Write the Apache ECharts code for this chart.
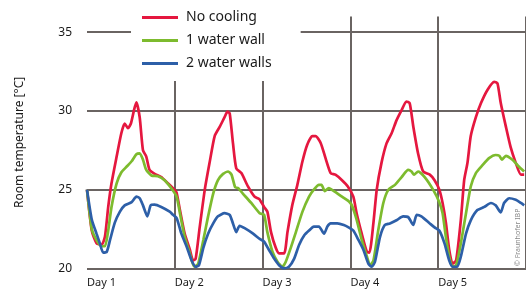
<!DOCTYPE html>
<html>
<head>
<meta charset="utf-8">
<script src="https://cdn.jsdelivr.net/npm/echarts@6/dist/echarts.min.js"></script>
<style>
  html, body { margin: 0; padding: 0; background: #fff; }
  #chart { width: 526px; height: 290px; }
</style>
</head>
<body>
<div id="chart"></div>
<script>
var myChart = echarts.init(document.getElementById('chart'));

var dayLabels = ['Day 1', 'Day 2', 'Day 3', 'Day 4', 'Day 5'];
var seriesNames = ['No cooling', '1 water wall', '2 water walls'];
var seriesColors = ['#e5173f', '#7dbb2e', '#2d5fa8'];

// [hour, room temperature °C]
var noCooling = [[0,25.0],[1.3,22.4],[2.6,21.6],[4.0,21.5],[4.9,22.0],[5.8,23.9],[6.7,25.4],[8.1,27.1],
    [9.4,28.6],[10.3,29.2],[11.2,28.9],[12.0,29.2],[12.9,30.1],[13.5,30.55],[14.4,29.6],[15.3,27.5],
    [16.2,27.1],[17.1,26.25],[18.5,26.0],[20.3,25.8],[22.1,25.4],[23.9,25.0],[24.5,24.8],[25.4,23.7],
    [26.7,22.2],[28.1,21.2],[29.0,20.5],[29.7,20.6],[30.8,22.6],[32.2,25.0],[33.5,26.7],[34.9,28.4],
    [36.3,29.0],[37.6,29.6],[38.4,29.95],[39.0,29.85],[39.9,27.95],[40.8,26.35],[42.2,26.05],[44.0,25.2],
    [45.8,24.55],[47.1,24.4],[48.4,23.9],[49.3,23.6],[50.3,22.3],[51.6,21.3],[52.5,20.95],[53.9,20.95],
    [54.8,22.3],[56.1,24.0],[57.5,25.3],[58.9,26.8],[60.2,27.85],[61.6,28.4],[62.5,28.4],[63.9,27.95],
    [65.2,27.0],[66.6,26.05],[67.9,25.95],[69.7,25.6],[71.3,25.2],[72.8,24.55],[73.7,23.5],[75.1,22.2],
    [76.5,21.05],[77.2,21.0],[78.3,22.9],[79.2,25.0],[80.5,26.7],[81.9,27.95],[83.3,28.6],[84.6,29.4],
    [86.0,30.05],[87.3,30.6],[88.2,30.5],[89.2,29.0],[90.5,27.3],[91.9,26.15],[93.7,25.95],[95.0,25.6],
    [96.3,25.0],[97.2,24.15],[98.1,22.9],[99.0,21.2],[99.9,20.3],[100.9,20.5],[102.2,23.1],[103.1,25.6],
    [104.0,26.7],[104.9,28.4],[106.3,29.6],[107.7,30.5],[109.5,31.35],[111.3,31.85],[112.2,31.75],
    [113.1,30.5],[114.5,29.0],[115.8,27.7],[117.2,26.7],[118.6,25.95],[119.5,25.95]];

var oneWall = [[0,25.0],[1.3,22.5],[2.6,21.8],[4.0,21.4],[4.9,21.4],[5.8,22.4],[6.7,23.9],[8.1,25.4],
    [9.4,26.1],[10.8,26.45],[12.2,26.8],[13.5,27.25],[14.4,27.3],[15.3,26.9],[16.2,26.25],[17.6,25.9],
    [19.4,25.85],[21.2,25.6],[23.0,25.1],[24.5,24.55],[25.4,23.5],[26.7,22.0],[28.1,20.95],[29.3,20.1],
    [30.4,20.3],[31.8,21.8],[33.1,23.3],[34.5,24.75],[35.8,25.6],[37.2,26.0],[38.6,26.15],[39.5,25.95],
    [40.5,25.15],[41.3,25.1],[42.6,24.75],[44.9,24.15],[47.2,23.5],[48.4,23.4],[49.3,22.3],[50.7,21.05],
    [52.1,20.4],[53.4,20.1],[54.3,20.4],[55.7,21.3],[57.1,22.3],[58.9,23.6],[60.7,24.55],[62.0,25.0],
    [63.4,25.3],[64.1,25.3],[65.0,24.9],[66.1,25.1],[67.5,24.9],[69.7,24.55],[71.6,24.25],[72.4,24.0],
    [73.7,23.1],[75.1,21.8],[76.5,20.75],[77.4,20.2],[78.3,20.5],[79.6,22.4],[81.0,24.15],[82.4,25.0],
    [84.2,25.3],[86.0,25.8],[87.8,26.25],[88.7,26.15],[89.4,25.95],[90.5,26.15],[92.3,25.8],[94.6,25.0],
    [96.3,24.2],[97.2,23.5],[98.1,22.0],[99.0,20.75],[99.9,20.1],[100.9,20.2],[102.2,21.6],[103.6,23.5],
    [104.9,25.2],[106.3,26.05],[108.1,26.55],[109.9,27.0],[111.7,27.2],[112.7,27.15],[113.4,26.9],
    [114.5,27.15],[116.3,26.9],[118.1,26.45],[119.5,26.15]];

var twoWalls = [[0,25.0],[1.3,23.1],[2.6,22.2],[3.5,21.6],[4.4,21.0],[5.4,21.05],[6.3,21.8],[7.6,22.9],
    [9.0,23.6],[10.3,24.0],[12.2,24.2],[13.5,24.55],[14.4,24.45],[15.3,24.0],[16.5,23.3],[17.4,24.0],
    [18.5,24.05],[20.3,23.9],[22.6,23.6],[23.5,23.4],[24.5,23.2],[25.8,22.2],[27.2,21.4],[28.6,20.5],
    [29.7,20.1],[30.6,20.2],[31.8,21.3],[33.1,22.2],[34.5,22.85],[35.8,23.3],[37.6,23.5],[39.0,23.4],
    [39.9,22.85],[40.8,22.3],[41.7,22.7],[43.1,22.55],[45.4,22.2],[47.3,21.85],[48.4,21.7],[49.8,21.15],
    [51.2,20.6],[52.5,20.2],[53.9,20.0],[55.2,20.1],[56.6,20.6],[58.0,21.5],[59.4,22.1],[60.7,22.4],
    [62.0,22.65],[63.4,22.65],[64.8,22.2],[65.7,22.65],[66.6,22.85],[68.4,22.85],[70.2,22.75],[71.5,22.6],
    [72.8,22.4],[74.2,21.8],[75.6,21.15],[76.9,20.3],[77.8,20.1],[78.7,20.4],[80.1,22.0],[81.4,22.75],
    [82.8,22.85],[84.6,23.05],[86.4,23.3],[87.8,23.25],[89.2,22.75],[90.1,23.4],[91.4,23.3],[93.7,22.85],
    [95.0,22.6],[96.3,22.4],[97.7,21.6],[99.0,20.5],[99.9,20.1],[101.2,20.1],[102.2,20.75],[103.6,22.2],
    [104.9,23.05],[106.7,23.7],[108.6,23.9],[110.4,24.15],[111.7,24.0],[113.1,23.55],[114.0,24.15],
    [115.4,24.45],[117.2,24.35],[118.6,24.15],[119.5,24.0]];

var allData = [noCooling, oneWall, twoWalls];
var gridColor = '#6a6462';
var textFont = 'Noto Sans';

option = {
    backgroundColor: '#fff',
    animation: false,
    grid: {
        left: 87,
        top: 16.5,
        width: 441,
        bottom: 21.7
    },
    legend: {
        data: seriesNames,
        orient: 'vertical',
        left: 131,
        top: 0,
        padding: [10, 29, 10, 11],
        itemGap: 8,
        itemWidth: 36,
        itemHeight: 3,
        icon: 'rect',
        backgroundColor: '#fff',
        textStyle: {
            color: '#1a1a1a',
            fontSize: 14,
            lineHeight: 15,
            fontFamily: textFont,
            padding: [0, 0, 0, 3]
        }
    },
    xAxis: {
        type: 'value',
        min: 0,
        max: 120,
        interval: 24,
        axisLine: { show: false },
        axisTick: { show: false },
        axisLabel: {
            align: 'left',
            margin: 9,
            color: '#1a1a1a',
            fontSize: 11,
            fontFamily: textFont,
            showMaxLabel: false,
            formatter: function (v) {
                return dayLabels[v / 24] || '';
            }
        },
        splitLine: {
            show: true,
            showMinLine: false,
            lineStyle: { color: gridColor, width: 2 }
        }
    },
    yAxis: {
        type: 'value',
        min: 20,
        max: 36,
        interval: 5,
        name: 'Room temperature [°C]',
        nameLocation: 'middle',
        nameGap: 61,
        nameTextStyle: {
            color: '#1a1a1a',
            fontSize: 12,
            fontFamily: textFont
        },
        axisLine: { show: false },
        axisTick: { show: false },
        axisLabel: {
            margin: 15,
            color: '#1a1a1a',
            fontSize: 12,
            fontFamily: textFont,
            showMaxLabel: false
        },
        splitLine: {
            show: true,
            showMaxLine: false,
            lineStyle: { color: gridColor, width: 2 }
        }
    },
    graphic: [{
        type: 'text',
        x: 518,
        y: 266,
        rotation: Math.PI / 2,
        style: {
            text: '© Fraunhofer IBP',
            fill: '#8a8a8a',
            fontSize: 7,
            fontFamily: textFont,
            textAlign: 'left',
            textVerticalAlign: 'middle'
        }
    }],
    series: allData.map(function (d, i) {
        return {
            name: seriesNames[i],
            type: 'line',
            data: d,
            symbol: 'none',
            smooth: 0.2,
            color: seriesColors[i],
            lineStyle: { width: 2.7, color: seriesColors[i] }
        };
    })
};
myChart.setOption(option);
</script>
</body>
</html>
